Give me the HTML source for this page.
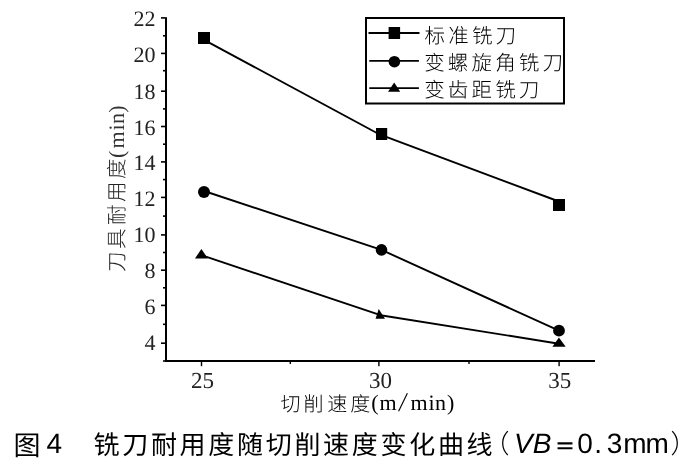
<!DOCTYPE html>
<html><head><meta charset="utf-8">
<style>
html,body{margin:0;padding:0;background:#fff;}
body{width:696px;height:470px;overflow:hidden;}
svg{display:block;filter:grayscale(1);}
</style></head>
<body>
<svg width="696" height="470" viewBox="0 0 696 470" text-rendering="geometricPrecision">
<rect x="0" y="0" width="696" height="470" fill="#fff"/>
<g fill="#000">
<rect x="165" y="17.2" width="2" height="344.8"/>
<rect x="165" y="360" width="430" height="2"/>
<rect x="161" y="17.1" width="4" height="1.6"/>
<rect x="161" y="52.6" width="4" height="1.6"/>
<rect x="161" y="90.4" width="4" height="1.6"/>
<rect x="161" y="125.7" width="4" height="1.6"/>
<rect x="161" y="161.1" width="4" height="1.6"/>
<rect x="161" y="196.6" width="4" height="1.6"/>
<rect x="161" y="234.1" width="4" height="1.6"/>
<rect x="161" y="269.4" width="4" height="1.6"/>
<rect x="161" y="304.6" width="4" height="1.6"/>
<rect x="161" y="342.4" width="4" height="1.6"/>
<rect x="163" y="35" width="2" height="1.6"/>
<rect x="163" y="69.9" width="2" height="1.6"/>
<rect x="163" y="108.1" width="2" height="1.6"/>
<rect x="163" y="143.4" width="2" height="1.6"/>
<rect x="163" y="178.8" width="2" height="1.6"/>
<rect x="163" y="215.3" width="2" height="1.6"/>
<rect x="163" y="251.7" width="2" height="1.6"/>
<rect x="163" y="287" width="2" height="1.6"/>
<rect x="163" y="323.5" width="2" height="1.6"/>
<rect x="163" y="360.2" width="2" height="1.6"/>
<rect x="200.8" y="362" width="1.4" height="4.2"/>
<rect x="378.2" y="362" width="1.4" height="4.2"/>
<rect x="558.4" y="362" width="1.4" height="4.2"/>
<rect x="289.6" y="362" width="1.4" height="2"/>
<rect x="468.3" y="362" width="1.4" height="2"/>
</g>
<g stroke="#000" stroke-width="1.9" fill="none" stroke-linecap="butt">
<polyline points="204,39.8 381.5,135.5"/>
<polyline points="381.5,135.2 559,201.5"/>
<polyline points="204,191 381.5,249.9 559,330.7"/>
<polyline points="201.4,255.2 379,314.6"/>
<polyline points="379,315 559,343.7"/>
</g>
<g fill="#000">
<rect x="198" y="32" width="12" height="12"/>
<rect x="376" y="128" width="11.2" height="12"/>
<rect x="553" y="199" width="12" height="12"/>
<circle cx="204" cy="192" r="6"/>
<circle cx="381.5" cy="249.9" r="5.8"/>
<circle cx="559" cy="330.7" r="5.9"/>
<polygon points="201.4,248.9 195,258.4 207.8,258.4"/>
<polygon points="378.7,309.1 375.6,318.7 385,318.7"/>
<polygon points="558.9,337.4 552.4,346.8 565.7,346.8"/>
</g>
<rect x="366" y="18" width="198" height="85.5" fill="none" stroke="#000" stroke-width="2"/>
<g stroke="#000" stroke-width="1.8">
<line x1="368.5" y1="33" x2="419.5" y2="33"/>
<line x1="369.3" y1="60.8" x2="418.9" y2="60.8"/>
<line x1="369.3" y1="88.1" x2="418.9" y2="88.1"/>
</g>
<g fill="#000">
<rect x="388.6" y="27" width="11.5" height="12"/>
<circle cx="394.4" cy="61.7" r="5.8"/>
<polygon points="394.2,82.6 388,91.7 400.2,91.7"/>
</g>
<text x="424.5 448.2 471.9 495.6" y="43" font-family='"Liberation Sans","Noto Sans CJK SC",sans-serif' font-weight="300" font-size="20.5" fill="#000">标准铣刀</text>
<text x="424.2 447.85 471.5 495.15 518.8 542.45" y="70.3" font-family='"Liberation Sans","Noto Sans CJK SC",sans-serif' font-weight="300" font-size="20.5" fill="#000">变螺旋角铣刀</text>
<text x="424.2 447.85 471.5 495.15 518.8" y="97.4" font-family='"Liberation Sans","Noto Sans CJK SC",sans-serif' font-weight="300" font-size="20.5" fill="#000">变齿距铣刀</text>
<text x="155.6" y="26.3" text-anchor="end" font-family='"Liberation Serif","Noto Serif CJK SC",serif' font-size="22" fill="#222">22</text>
<text x="155.6" y="61.8" text-anchor="end" font-family='"Liberation Serif","Noto Serif CJK SC",serif' font-size="22" fill="#222">20</text>
<text x="155.6" y="99.2" text-anchor="end" font-family='"Liberation Serif","Noto Serif CJK SC",serif' font-size="22" fill="#222">18</text>
<text x="155.6" y="134.9" text-anchor="end" font-family='"Liberation Serif","Noto Serif CJK SC",serif' font-size="22" fill="#222">16</text>
<text x="155.6" y="170.4" text-anchor="end" font-family='"Liberation Serif","Noto Serif CJK SC",serif' font-size="22" fill="#222">14</text>
<text x="155.6" y="206.2" text-anchor="end" font-family='"Liberation Serif","Noto Serif CJK SC",serif' font-size="22" fill="#222">12</text>
<text x="155.6" y="242.3" text-anchor="end" font-family='"Liberation Serif","Noto Serif CJK SC",serif' font-size="22" fill="#222">10</text>
<text x="155.6" y="278.1" text-anchor="end" font-family='"Liberation Serif","Noto Serif CJK SC",serif' font-size="22" fill="#222">8</text>
<text x="155.6" y="314.3" text-anchor="end" font-family='"Liberation Serif","Noto Serif CJK SC",serif' font-size="22" fill="#222">6</text>
<text x="155.6" y="349.6" text-anchor="end" font-family='"Liberation Serif","Noto Serif CJK SC",serif' font-size="22" fill="#222">4</text>
<text x="202.6" y="387.6" text-anchor="middle" font-family='"Liberation Serif","Noto Serif CJK SC",serif' font-size="23" fill="#222">25</text>
<text x="380.6" y="387.6" text-anchor="middle" font-family='"Liberation Serif","Noto Serif CJK SC",serif' font-size="23" fill="#222">30</text>
<text x="559.7" y="387.6" text-anchor="middle" font-family='"Liberation Serif","Noto Serif CJK SC",serif' font-size="23" fill="#222">35</text>
<text x="280.5 303.5 327.2 350.2" y="410.7" font-family='"Liberation Sans","Noto Sans CJK SC",sans-serif' font-weight="300" font-size="20" fill="#000">切削速度</text>
<text x="371.2 379.4" y="410.2" font-family='"Liberation Serif","Noto Serif CJK SC",serif' font-size="22" fill="#000">(m</text>
<text transform="translate(398,411.2) skewX(-8)" x="0" y="0" font-family='"Liberation Serif","Noto Serif CJK SC",serif' font-size="27" fill="#000">/</text>
<text x="410.5 428.4 434.9 447.1" y="410.2" font-family='"Liberation Serif","Noto Serif CJK SC",serif' font-size="22" fill="#000">min)</text>
<text transform="rotate(-90)" x="-272 -249 -225 -202 -179" y="123.8" font-family='"Liberation Sans","Noto Sans CJK SC",sans-serif' font-weight="300" font-size="20.5" fill="#222">刀具耐用度</text>
<text transform="rotate(-90)" x="-158 -148.5 -130.6 -124.1 -112.7" y="123.6" font-family='"Liberation Serif","Noto Serif CJK SC",serif' font-size="22" fill="#333">(min)</text>
<text x="13.4" y="455.2" font-family='"Liberation Sans","Noto Sans CJK SC",sans-serif' font-size="27" fill="#000">图</text>
<text x="46.5" y="453" font-family='"Liberation Sans","Noto Sans CJK SC",sans-serif' font-size="28" fill="#000">4</text>
<text x="93.5 122.2 150.9 179.6 208.3 237 265.7 294.4 323.1 351.8 380.5 409.2 437.9 466.6" y="454.3" font-family='"Liberation Sans","Noto Sans CJK SC",sans-serif' font-size="26" fill="#000">铣刀耐用度随切削速度变化曲线</text>
<text x="483.6" y="453.2" font-family='"Liberation Sans","Noto Sans CJK SC",sans-serif' font-size="26" font-weight="300" fill="#000">（</text>
<text x="514" y="453" font-family='"Liberation Sans","Noto Sans CJK SC",sans-serif' font-size="28" font-style="italic" fill="#000">VB</text>
<text x="554.5" y="454" font-family='"Liberation Sans","Noto Sans CJK SC",sans-serif' font-size="21" font-weight="700" fill="#000">＝</text>
<text x="577.2 594.3 606.8 623.2 645.4" y="453" font-family='"Liberation Sans","Noto Sans CJK SC",sans-serif' font-size="28" fill="#000">0.3mm</text>
<text x="670.4" y="453.2" font-family='"Liberation Sans","Noto Sans CJK SC",sans-serif' font-size="26" font-weight="300" fill="#000">）</text>
</svg>
</body></html>
